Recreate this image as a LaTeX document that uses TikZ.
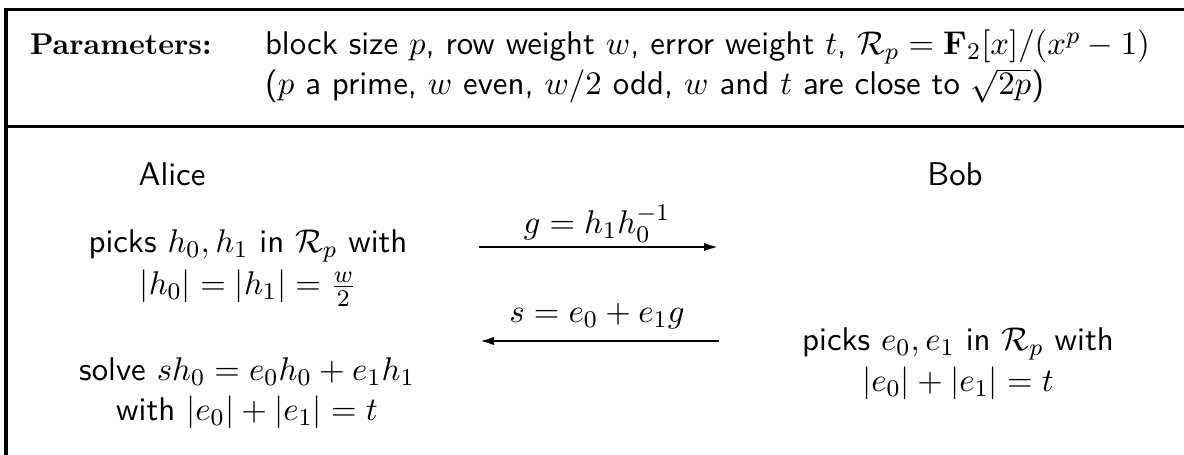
\documentclass[tikz,border=0pt]{standalone}
\usetikzlibrary{arrows.meta}
\begin{document}
\begin{tikzpicture}[x=0.3333pt,y=-0.3333pt,
  txt/.style={inner sep=0pt,outer sep=0pt,anchor=base,font=\fontsize{10.95}{13.6}\selectfont\sffamily},
  frame/.style={line width=1pt},
  msg/.style={line width=0.9pt,-{Latex[length=5pt,width=2.8pt]}}]
\useasboundingbox (0,0) rectangle (1184,455);
\draw[frame] (6,470) -- (6,10) -- (1200,10);
\draw[frame] (6,127) -- (1200,127);
\node[txt,anchor=base west,font=\fontsize{10}{12}\selectfont\rmfamily\bfseries] (par) at (30,55) {Parameters:};
\node[txt,anchor=base west] (p1) at (265,55) {block size $p$, row weight $w$, error weight $t$, $\mathcal{R}_p=\mathbf{F}_2[x]/(x^p-1)$};
\node[txt,anchor=base west] (p2) at (265,95) {($p$ a prime, $w$ even, $w/2$ odd, $w$ and $t$ are close to $\sqrt{2p}$)};
\node[txt] (alice) at (172,186) {Alice};
\node[txt] (bob) at (955,186) {Bob};
\node[txt] (apick1) at (248,253) {picks $h_0,h_1$ in $\mathcal{R}_p$ with};
\node[txt] (apick2) at (248,295) {$|h_0|=|h_1|=\frac{w}{2}$};
\node[txt] (asolve1) at (247,381) {solve $sh_0=e_0h_0+e_1h_1$};
\node[txt] (asolve2) at (247,421) {with $|e_0|+|e_1|=t$};
\node[txt] (bpick1) at (958,351) {picks $e_0,e_1$ in $\mathcal{R}_p$ with};
\node[txt] (bpick2) at (958,392) {$|e_0|+|e_1|=t$};
\coordinate (m1a) at (479,247);
\coordinate (m1b) at (719,247);
\coordinate (m2a) at (719,341);
\coordinate (m2b) at (479,341);
\draw[msg] (m1a) -- (m1b);
\draw[msg] (m2a) -- (m2b);
\node[txt] (g) at (597,234) {$g=h_1h_0^{-1}$};
\node[txt] (s) at (597,323) {$s=e_0+e_1g$};
\end{tikzpicture}
\end{document}
